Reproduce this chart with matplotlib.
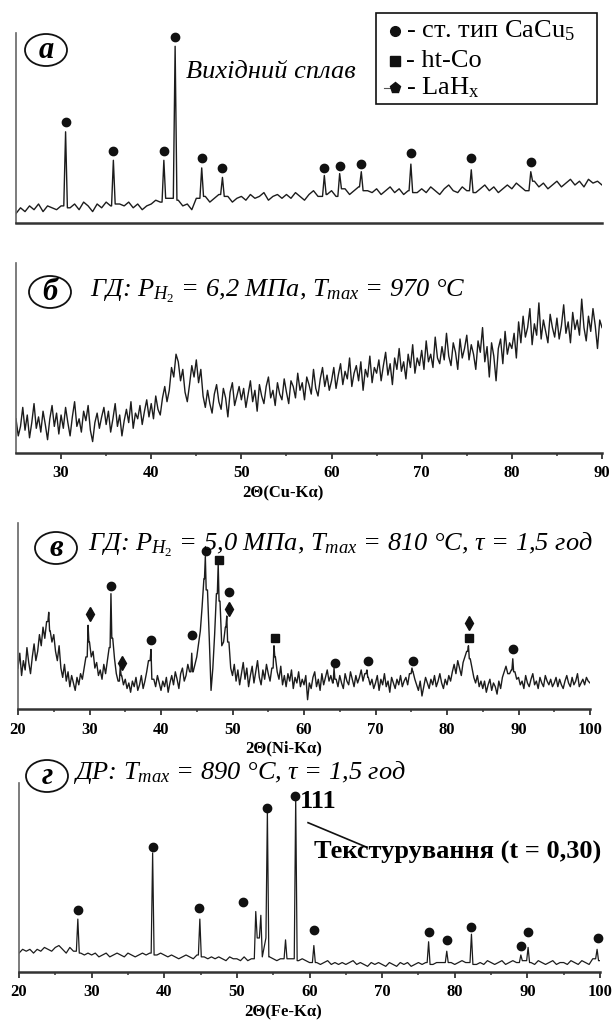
import numpy as np
import matplotlib
matplotlib.use("Agg")
import matplotlib.pyplot as plt
from matplotlib.patches import Ellipse, Rectangle
from matplotlib.lines import Line2D

plt.rcParams['font.family'] = ['Liberation Serif', 'DejaVu Serif']
plt.rcParams['mathtext.fontset'] = 'custom'
plt.rcParams['mathtext.rm'] = 'Liberation Serif'
plt.rcParams['mathtext.it'] = 'Liberation Serif:italic'
plt.rcParams['mathtext.bf'] = 'Liberation Serif:bold'

# ---- data: background read at a fixed 2theta step (percent of panel height),
#      peaks as (2theta, height), phase marks as (2theta, height)
a_start, a_step = 25.0, 0.5
a_bg = [5, 8, 6, 9, 7, 10, 6, 9, 8, 7,
        9, 12, 8, 10, 7, 11, 9, 6, 10, 8,
        11, 9, 7, 10, 9, 11, 8, 10, 7, 9,
        10, 12, 11, 9, 13, 15, 12, 9, 10, 7,
        13, 10, 14, 11, 13, 15, 12, 14, 11, 13,
        14, 12, 15, 13, 14, 16, 12, 14, 15, 13,
        15, 13, 16, 14, 12, 15, 17, 14, 16, 15,
        17, 14, 16, 18, 15, 17, 19, 15, 17, 16,
        18, 15, 17, 19, 16, 18, 15, 17, 19, 16,
        18, 16, 19, 17, 15, 18, 20, 17, 16, 19,
        17, 19, 16, 18, 20, 17, 19, 16, 18, 20,
        18, 21, 19, 17, 20, 22, 19, 21, 18, 20,
        22, 19, 21, 23, 20, 22, 19, 23, 21, 22,
        20]
a_peaks = [(30.5, 48), (35.8, 33), (41.4, 33), (42.65, 93), (45.6, 29), (47.9, 24),
           (59.2, 25), (60.9, 26), (63.3, 27), (68.8, 31), (75.5, 28), (82.1, 27)]
a_circles = [(30.5, 53), (35.8, 38), (41.4, 38), (42.65, 98), (45.6, 34), (47.9, 29),
             (59.2, 29), (60.9, 30), (63.3, 31), (68.8, 37), (75.5, 34), (82.1, 32)]

b_start, b_step = 25.0, 0.25
b_bg = [18, 9, 14, 24, 12, 20, 8, 16, 26, 13, 19, 11, 22, 15, 7, 18, 25, 14, 21, 10,
        20, 13, 24, 16, 9, 19, 27, 14, 18, 11, 22, 17, 25, 12, 6, 16, 21, 13, 19, 24,
        15, 22, 11, 18, 26, 14, 20, 9, 17, 23, 16, 27, 13, 21, 18, 25, 15, 22, 28, 19,
        26, 18, 30, 23, 20, 29, 35, 27, 33, 45, 40, 52, 48, 38, 44, 32, 27, 36, 46, 40,
        49, 37, 44, 30, 24, 33, 26, 21, 31, 36, 27, 23, 34, 29, 19, 32, 37, 25, 30, 35,
        28, 34, 24, 31, 38, 27, 33, 22, 36, 30, 26, 35, 40, 29, 33, 25, 37, 31, 28, 39,
        32, 26, 38, 35, 29, 42, 33, 37, 28, 40, 36, 31, 44, 34, 30, 39, 45, 35, 41, 33,
        38, 45, 34, 41, 47, 36, 43, 39, 50, 35, 42, 46, 38, 48, 33, 44, 40, 51, 37, 45,
        42, 49, 38, 46, 53, 41, 47, 36, 50, 44, 55, 43, 48, 39, 52, 45, 57, 42, 50, 46,
        54, 44, 59, 48, 52, 45, 61, 50, 47, 56, 49, 63, 51, 46, 58, 53, 44, 60, 50, 55,
        62, 49, 57, 52, 44, 59, 53, 66, 48, 56, 40, 58, 51, 38, 55, 60, 47, 64, 52, 58,
        55, 63, 50, 69, 58, 72, 61, 66, 76, 57, 68, 62, 79, 60, 70, 64, 58, 73, 66, 61,
        71, 60, 67, 78, 63, 69, 58, 74, 65, 70, 62, 81, 66, 59, 72, 64, 76, 67, 55, 70,
        66]

c_start, c_step = 20.0, 0.25
c_bg = [22, 30, 18, 26, 21, 33, 25, 19, 28, 35, 26, 31, 40, 34, 44, 38, 47, 50, 42, 36,
        40, 31, 26, 34, 22, 17, 24, 15, 20, 12, 18, 14, 10, 17, 13, 19, 16, 22, 28, 40,
        36, 28, 31, 22, 25, 18, 21, 16, 24, 19, 26, 33, 55, 38, 27, 19, 15, 20, 18, 13,
        16, 11, 14, 9, 15, 12, 17, 10, 13, 18, 11, 15, 20, 26, 30, 22, 16, 12, 18, 14,
        10, 15, 12, 17, 9, 14, 18, 13, 20, 16, 11, 19, 22, 15, 18, 24, 20, 26, 20, 24,
        28, 35, 42, 55, 70, 80, 64, 38, 10, 22, 40, 62, 76, 58, 34, 36, 44, 48, 36, 22,
        18, 24, 15, 21, 13, 19, 25, 16, 22, 12, 18, 23, 14, 20, 26, 17, 13, 21, 16, 24,
        19, 15, 22, 30, 28, 20, 16, 23, 13, 18, 12, 19, 15, 21, 11, 17, 14, 20, 12, 16,
        13, 18, 5, 14, 11, 17, 20, 12, 16, 10, 19, 13, 17, 21, 15, 18, 14, 20, 16, 12,
        18, 14, 11, 19, 15, 13, 20, 16, 12, 18, 14, 17, 21, 15, 19, 20, 17, 13, 16, 11,
        14, 18, 10, 16, 13, 19, 12, 15, 9, 17, 14, 11, 16, 13, 18, 12, 15, 17, 13, 19,
        18, 20, 16, 13, 10, 15, 7, 12, 17, 14, 11, 16, 13, 18, 12, 15, 19, 14, 11, 16,
        13, 18, 15, 20, 24, 19, 26, 22, 18, 25, 28, 31, 33, 27, 22, 17, 14, 18, 12, 15,
        11, 15, 9, 13, 16, 10, 14, 12, 8, 15, 11, 17, 20, 23, 19, 19, 21, 18, 20, 16,
        17, 13, 15, 11, 18, 14, 12, 16, 19, 13, 15, 11, 17, 14, 12, 18, 15, 13, 16, 12,
        14, 17, 12, 16, 13, 11, 15, 18, 14, 12, 17, 13, 15, 19, 12, 14, 16, 13, 17, 15,
        14]
c_peaks = [(24.3, 52), (29.8, 45), (33.0, 62), (34.3, 23), (38.6, 32), (44.3, 30),
           (46.2, 82), (48.0, 78), (49.2, 50), (55.8, 34), (64.2, 22), (68.8, 21),
           (75.1, 22), (83.0, 34), (89.2, 27)]
c_circles = [(33.0, 66), (38.6, 37), (44.4, 40), (46.3, 85), (49.5, 63),
             (64.3, 25), (68.9, 26), (75.2, 26), (89.3, 32)]
c_squares = [(48.1, 80), (56.0, 38), (83.1, 38)]
c_diamonds = [(30.0, 51), (34.5, 25), (49.5, 54), (83.1, 46)]

d_start, d_step = 20.0, 0.5
d_bg = [10, 12, 11, 12, 10, 12, 11, 13, 12, 11,
        13, 14, 12, 10, 13, 11, 9, 10, 9, 10,
        9, 10, 8, 9, 10, 8, 9, 10, 9, 8,
        10, 9, 8, 9, 10, 9, 10, 9, 9, 10,
        9, 8, 9, 8, 7, 8, 9, 8, 7, 9,
        8, 8, 7, 8, 7, 8, 7, 6, 8, 7,
        7, 6, 8, 6, 7, 7, 18, 12, 10, 8,
        7, 6, 7, 8, 7, 7, 6, 6, 7, 6,
        5, 5, 5, 4, 5, 6, 4, 5, 4, 5,
        4, 5, 6, 4, 5, 4, 3, 5, 4, 5,
        4, 3, 5, 4, 3, 5, 4, 5, 3, 4,
        5, 4, 5, 5, 4, 5, 5, 5, 4, 5,
        4, 5, 6, 5, 5, 5, 4, 5, 4, 6,
        5, 4, 5, 6, 4, 5, 6, 5, 5, 6,
        6, 5, 4, 6, 5, 4, 5, 6, 4, 5,
        5, 4, 6, 5, 4, 6, 5, 4, 7, 7,
        6]
d_peaks = [(28.1, 28), (38.4, 63), (44.9, 28), (52.6, 32), (53.3, 30), (54.2, 85),
           (56.7, 17), (58.1, 92), (60.6, 14), (76.4, 16), (78.9, 11), (82.3, 20),
           (89.1, 9), (90.1, 13), (99.6, 12)]
d_circles = [(28.1, 33), (38.4, 66), (44.8, 34), (50.8, 37), (54.1, 87), (58.0, 93),
             (60.6, 22), (76.4, 21), (78.9, 17), (82.3, 24), (89.1, 14), (90.1, 21),
             (99.7, 18)]

W, H = 614, 1033
fig = plt.figure(figsize=(W / 100, H / 100), dpi=100)


def px_rect(l, t, r, b):
    return [l / W, 1 - b / H, (r - l) / W, (b - t) / H]


def fx(x, y):
    return x / W, 1 - y / H


def build_trace(start, step, bg, peaks, hw):
    gx = start + step * np.arange(len(bg))
    gy = np.array(bg, float)
    keep = np.ones(len(gx), bool)
    for p, _ in peaks:
        keep &= np.abs(gx - p) >= hw
    xs, ys = list(gx[keep]), list(gy[keep])
    for p, h in peaks:
        left = gy[keep & (gx < p)][-1]
        right = gy[keep & (gx > p)][0]
        xs += [p - 0.8 * hw, p, p + 0.8 * hw]
        ys += [left, h, right]
    order = np.argsort(xs)
    return np.array(xs)[order], np.array(ys)[order]


def make_panel(rect, xlim, major=None, minor=None, xlabel=None, label_x=0.46):
    ax = fig.add_axes(rect)
    ax.set_xlim(*xlim)
    ax.set_ylim(0, 100)
    ax.patch.set_alpha(0)
    for s in ('top', 'right'):
        ax.spines[s].set_visible(False)
    ax.spines['left'].set_color('#666')
    ax.spines['left'].set_linewidth(1.2)
    ax.spines['bottom'].set_color('#333')
    ax.spines['bottom'].set_linewidth(1.8)
    ax.set_yticks([])
    if major is None:
        ax.set_xticks([])
    else:
        ax.set_xticks(major)
        ax.set_xticklabels([str(t) for t in major], fontsize=12, fontweight='bold')
        ax.set_xticks(minor, minor=True)
        ax.tick_params(axis='x', which='major', length=4, width=1.3, pad=5, color='#333')
        ax.tick_params(axis='x', which='minor', length=2, width=1.1, color='#333')
        ax.set_xlabel(xlabel, fontsize=12, fontweight='bold', labelpad=3)
        ax.xaxis.set_label_coords(label_x, -0.17)
    return ax


def circled(cx, cy, letter):
    fig.add_artist(Ellipse(fx(cx, cy), 42 / W, 32 / H, transform=fig.transFigure,
                           fill=False, ec='#111', lw=1.3))
    fig.text(*fx(cx, cy + 1), letter, ha='center', va='center', fontsize=22,
             fontweight='bold', style='italic')


mk = dict(ls='none', color='#111', clip_on=False)

# ---- panel a
ax_a = make_panel(px_rect(16, 33, 602, 223), (25, 90))
x, y = build_trace(a_start, a_step, a_bg, a_peaks, 0.25)
ax_a.plot(x, y, color='#1c1c1c', lw=1.0)
ax_a.plot(*zip(*a_circles), marker='o', ms=6, **mk)
circled(46, 50, 'а')
fig.text(*fx(186, 72), 'Вихідний сплав', fontsize=19, style='italic', va='center')

# legend box
fig.add_artist(Rectangle(fx(376, 104), 221 / W, 91 / H, transform=fig.transFigure,
                         fill=False, ec='#111', lw=1.2))
fig.add_artist(Line2D([fx(395, 0)[0]], [fx(0, 31)[1]], marker='o', ms=7, color='#111',
                      transform=fig.transFigure))
fig.add_artist(Line2D([fx(395, 0)[0]], [fx(0, 61)[1]], marker='s', ms=6.5, color='#111',
                      transform=fig.transFigure))
fig.add_artist(Line2D([fx(384, 0)[0], fx(395, 0)[0]], [fx(0, 88)[1]] * 2, color='#555',
                      lw=0.8, transform=fig.transFigure))
fig.add_artist(Line2D([fx(395, 0)[0]], [fx(0, 88)[1]], marker='p', ms=8, color='#111',
                      transform=fig.transFigure))
fig.text(*fx(406, 31), '- ст. тип CaCu$_5$', fontsize=19, va='center')
fig.text(*fx(406, 61), '- ht-Co', fontsize=19, va='center')
fig.text(*fx(406, 88), '- LaH$_\\mathrm{x}$', fontsize=19, va='center')

# ---- panel b
ax_b = make_panel(px_rect(16, 263, 602, 453), (25, 90), list(range(30, 91, 10)),
                  list(range(35, 90, 10)), '2Θ(Cu-Kα)', label_x=0.456)
gx = b_start + b_step * np.arange(len(b_bg))
ax_b.plot(gx, b_bg, color='#1c1c1c', lw=1.0)
circled(50, 292, 'б')
fig.text(*fx(90, 291), 'ГД: $P_{H_2}$ = 6,2 МПа, $T_{max}$ = 970 °C', fontsize=19,
         style='italic', va='center')

# ---- panel c
ax_c = make_panel(px_rect(18, 523, 590, 709), (20, 100), list(range(20, 101, 10)),
                  list(range(25, 100, 10)), '2Θ(Ni-Kα)', label_x=0.465)
x, y = build_trace(c_start, c_step, c_bg, c_peaks, 0.15)
ax_c.plot(x, y, color='#1c1c1c', lw=1.0)
ax_c.plot(*zip(*c_circles), marker='o', ms=6, **mk)
ax_c.plot(*zip(*c_squares), marker='s', ms=6, **mk)
ax_c.plot(*zip(*c_diamonds), marker='d', ms=7, **mk)
circled(56, 548, 'в')
fig.text(*fx(88, 545), 'ГД: $P_{H_2}$ = 5,0 МПа, $T_{max}$ = 810 °C, τ = 1,5 год',
         fontsize=19, style='italic', va='center')

# ---- panel d
ax_d = make_panel(px_rect(19, 783, 600, 972), (20, 100), list(range(20, 101, 10)),
                  list(range(25, 100, 10)), '2Θ(Fe-Kα)', label_x=0.454)
x, y = build_trace(d_start, d_step, d_bg, d_peaks, 0.25)
ax_d.plot(x, y, color='#1c1c1c', lw=0.9)
ax_d.plot(*zip(*d_circles), marker='o', ms=6, **mk)
circled(47, 776, 'г')
fig.text(*fx(73, 772), 'ДР: $T_{max}$ = 890 °C, τ = 1,5 год', fontsize=19,
         style='italic', va='center')
ax_d.text(58.7, 90, '111', fontsize=19, fontweight='bold', va='center')
ax_d.plot([59.8, 67.9], [79, 66], color='#111', lw=1.2, clip_on=False)
ax_d.text(60.6, 63.5, 'Текстурування (t = 0,30)', fontsize=19, fontweight='bold',
          va='center', clip_on=False)

fig.savefig('out.png', dpi=100)
